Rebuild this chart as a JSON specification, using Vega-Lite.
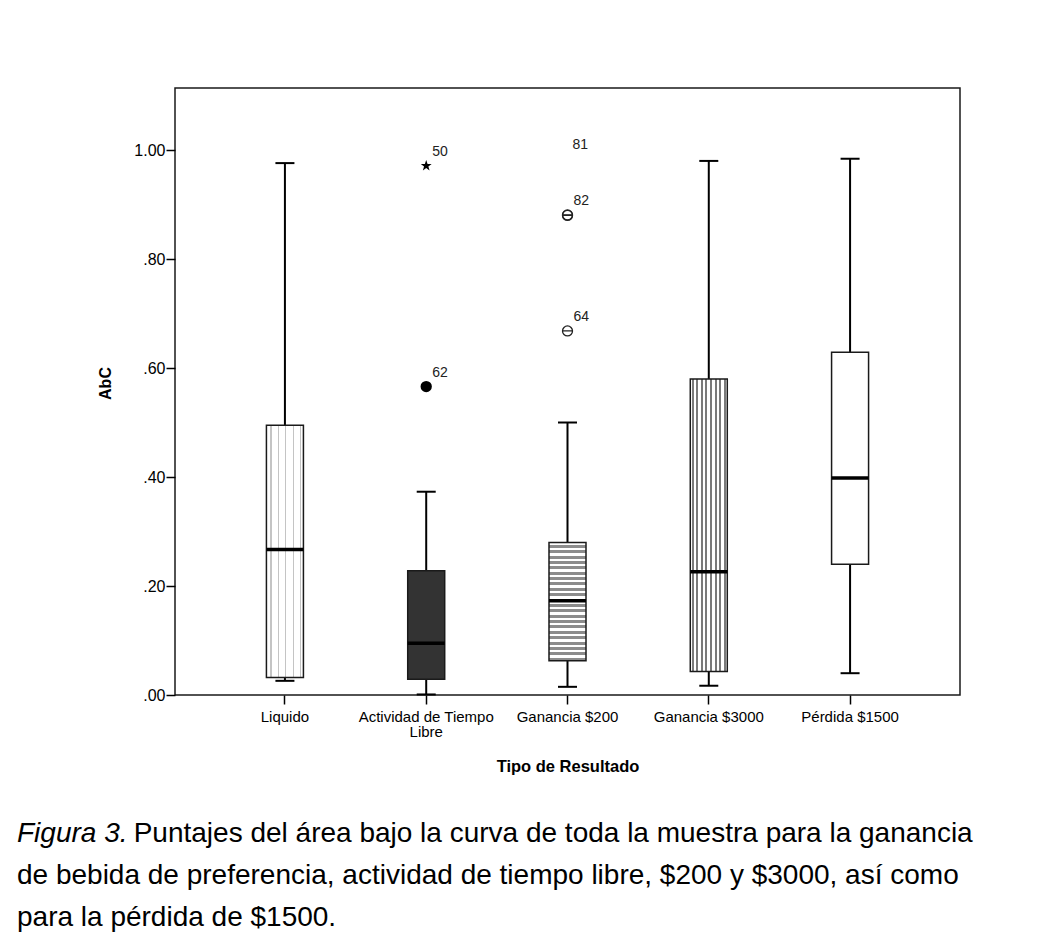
{
  "$schema": "https://vega.github.io/schema/vega-lite/v6.json",
  "width": 785,
  "height": 607,
  "autosize": {"type": "none"},
  "padding": {"left": 175, "top": 88, "right": 92, "bottom": 242},
  "background": "white",
  "config": {
    "view": {"stroke": "#1a1a1a", "strokeWidth": 1.5},
    "font": "Liberation Sans"
  },
  "datasets": {
    "boxes": [
      {"cat": "Liquido", "lo": 0.026, "q1": 0.032, "med": 0.267, "q3": 0.495, "hi": 0.976},
      {"cat": "Actividad de Tiempo Libre", "lo": 0.001, "q1": 0.029, "med": 0.095, "q3": 0.228, "hi": 0.373},
      {"cat": "Ganancia $200", "lo": 0.015, "q1": 0.063, "med": 0.173, "q3": 0.280, "hi": 0.500},
      {"cat": "Ganancia $3000", "lo": 0.017, "q1": 0.043, "med": 0.226, "q3": 0.580, "hi": 0.980},
      {"cat": "Pérdida $1500", "lo": 0.040, "q1": 0.240, "med": 0.398, "q3": 0.629, "hi": 0.984}
    ],
    "outliers": [
      {"cat": "Actividad de Tiempo Libre", "v": 0.971, "id": "50"},
      {"cat": "Actividad de Tiempo Libre", "v": 0.566, "id": "62"},
      {"cat": "Ganancia $200", "v": 0.881, "id": "81"},
      {"cat": "Ganancia $200", "v": 0.880, "id": "82"},
      {"cat": "Ganancia $200", "v": 0.668, "id": "64"}
    ]
  },
  "title": {
    "text": "Figura 3.",
    "subtitle": [
      "\u200b\u00a0\u00a0\u00a0\u00a0\u00a0\u00a0\u00a0\u00a0\u00a0\u00a0\u00a0\u00a0\u00a0\u00a0\u00a0Puntajes del área bajo la curva de toda la muestra para la ganancia",
      "de bebida de preferencia, actividad de tiempo libre, $200 y $3000, así como",
      "para la pérdida de $1500."
    ],
    "orient": "bottom",
    "anchor": "start",
    "frame": "group",
    "font": "Liberation Sans",
    "fontSize": 28,
    "fontStyle": "italic",
    "fontWeight": "normal",
    "color": "#000",
    "lineHeight": 42,
    "subtitleFont": "Liberation Sans",
    "subtitleFontSize": 28,
    "subtitleFontStyle": "normal",
    "subtitleFontWeight": "normal",
    "subtitleColor": "#000",
    "subtitleLineHeight": 42,
    "subtitlePadding": -28,
    "dx": -158,
    "offset": 45
  },
  "encoding": {
    "x": {
      "field": "cat",
      "type": "nominal",
      "scale": {
        "type": "band",
        "domain": ["Liquido", "Actividad de Tiempo Libre", "Ganancia $200", "Ganancia $3000", "Pérdida $1500"],
        "paddingInner": 0,
        "paddingOuter": 0.278
      },
      "axis": {
        "title": "Tipo de Resultado",
        "titleFont": "Liberation Sans",
        "titleFontSize": 16.5,
        "titleFontWeight": "bold",
        "titleColor": "#000",
        "titleY": 76,
        "titleBaseline": "alphabetic",
        "labelFont": "Liberation Sans",
        "labelFontSize": 15,
        "labelColor": "#000",
        "labelAngle": 0,
        "labelPadding": 5,
        "labelLimit": 0,
        "labelLineHeight": 15.5,
        "labelExpr": "datum.value == 'Actividad de Tiempo Libre' ? ['Actividad de Tiempo', 'Libre'] : datum.value",
        "tickSize": 9,
        "tickWidth": 1.5,
        "tickColor": "#000",
        "domain": false,
        "grid": false
      }
    }
  },
  "layer": [
    {
      "data": {"name": "boxes"},
      "mark": {"type": "rule", "color": "#000", "strokeWidth": 2},
      "encoding": {
        "y": {
          "field": "lo",
          "type": "quantitative",
          "title": "AbC",
          "scale": {"domain": [0, 1.1138], "nice": false, "zero": false},
          "axis": {
            "title": "AbC",
            "titleFont": "Liberation Sans",
            "titleFontSize": 16,
            "titleFontWeight": "bold",
            "titleColor": "#000",
            "titlePadding": 20,
            "titleY": 295,
            "values": [0, 0.2, 0.4, 0.6, 0.8, 1.0],
            "format": ".2f",
            "labelExpr": "replace(datum.label, '0.', '.')",
            "labelFont": "Liberation Sans",
            "labelFontSize": 16,
            "labelColor": "#000",
            "labelPadding": 1,
            "tickSize": 9,
            "tickWidth": 1.5,
            "tickColor": "#000",
            "domain": false,
            "grid": false
          }
        },
        "y2": {"field": "hi"}
      }
    },
    {
      "data": {"name": "boxes"},
      "mark": {"type": "tick", "color": "#000", "opacity": 1, "thickness": 2, "size": 19},
      "encoding": {"y": {"field": "lo", "type": "quantitative", "title": "AbC"}}
    },
    {
      "data": {"name": "boxes"},
      "mark": {"type": "tick", "color": "#000", "opacity": 1, "thickness": 2, "size": 19},
      "encoding": {"y": {"field": "hi", "type": "quantitative", "title": "AbC"}}
    },
    {
      "data": {"name": "boxes"},
      "transform": [{"filter": "datum.cat === 'Liquido'"}],
      "mark": {
        "type": "bar", "width": 37, "stroke": "#1a1a1a", "strokeWidth": 1.5, "opacity": 1,
        "fill": {"gradient": "linear", "x1": 0, "y1": 0, "x2": 1, "y2": 0, "stops": [
          {"offset": 0, "color": "#ffffff"}, {"offset": 0.11, "color": "#ffffff"}, {"offset": 0.11, "color": "#c4c4c4"}, {"offset": 0.14, "color": "#c4c4c4"}, {"offset": 0.14, "color": "#ffffff"},
          {"offset": 0.32, "color": "#ffffff"}, {"offset": 0.32, "color": "#c4c4c4"}, {"offset": 0.35, "color": "#c4c4c4"}, {"offset": 0.35, "color": "#ffffff"},
          {"offset": 0.51, "color": "#ffffff"}, {"offset": 0.51, "color": "#c4c4c4"}, {"offset": 0.54, "color": "#c4c4c4"}, {"offset": 0.54, "color": "#ffffff"},
          {"offset": 0.71, "color": "#ffffff"}, {"offset": 0.71, "color": "#c4c4c4"}, {"offset": 0.74, "color": "#c4c4c4"}, {"offset": 0.74, "color": "#ffffff"},
          {"offset": 0.9, "color": "#ffffff"}, {"offset": 0.9, "color": "#c4c4c4"}, {"offset": 0.93, "color": "#c4c4c4"}, {"offset": 0.93, "color": "#ffffff"},
          {"offset": 1, "color": "#ffffff"}
        ]}
      },
      "encoding": {"y": {"field": "q1", "type": "quantitative", "title": "AbC"}, "y2": {"field": "q3"}}
    },
    {
      "data": {"name": "boxes"},
      "transform": [{"filter": "datum.cat === 'Actividad de Tiempo Libre'"}],
      "mark": {"type": "bar", "width": 37, "stroke": "#1a1a1a", "strokeWidth": 1.5, "opacity": 1, "fill": "#333333"},
      "encoding": {"y": {"field": "q1", "type": "quantitative", "title": "AbC"}, "y2": {"field": "q3"}}
    },
    {
      "data": {"name": "boxes"},
      "transform": [{"filter": "datum.cat === 'Ganancia $200'"}],
      "mark": {
        "type": "bar", "width": 37, "stroke": "#1a1a1a", "strokeWidth": 1.5, "opacity": 1,
        "fill": {"gradient": "linear", "x1": 0, "y1": 0, "x2": 0, "y2": 1, "stops": [
          {"offset": 0, "color": "#ffffff"}, {"offset": 0.0205, "color": "#ffffff"}, {"offset": 0.0205, "color": "#8c8c8c"}, {"offset": 0.0455, "color": "#8c8c8c"},
          {"offset": 0.0455, "color": "#ffffff"}, {"offset": 0.0659, "color": "#ffffff"}, {"offset": 0.0659, "color": "#8c8c8c"}, {"offset": 0.0909, "color": "#8c8c8c"},
          {"offset": 0.0909, "color": "#ffffff"}, {"offset": 0.1114, "color": "#ffffff"}, {"offset": 0.1114, "color": "#8c8c8c"}, {"offset": 0.1364, "color": "#8c8c8c"},
          {"offset": 0.1364, "color": "#ffffff"}, {"offset": 0.1568, "color": "#ffffff"}, {"offset": 0.1568, "color": "#8c8c8c"}, {"offset": 0.1818, "color": "#8c8c8c"},
          {"offset": 0.1818, "color": "#ffffff"}, {"offset": 0.2023, "color": "#ffffff"}, {"offset": 0.2023, "color": "#8c8c8c"}, {"offset": 0.2273, "color": "#8c8c8c"},
          {"offset": 0.2273, "color": "#ffffff"}, {"offset": 0.2477, "color": "#ffffff"}, {"offset": 0.2477, "color": "#8c8c8c"}, {"offset": 0.2727, "color": "#8c8c8c"},
          {"offset": 0.2727, "color": "#ffffff"}, {"offset": 0.2932, "color": "#ffffff"}, {"offset": 0.2932, "color": "#8c8c8c"}, {"offset": 0.3182, "color": "#8c8c8c"},
          {"offset": 0.3182, "color": "#ffffff"}, {"offset": 0.3386, "color": "#ffffff"}, {"offset": 0.3386, "color": "#8c8c8c"}, {"offset": 0.3636, "color": "#8c8c8c"},
          {"offset": 0.3636, "color": "#ffffff"}, {"offset": 0.3841, "color": "#ffffff"}, {"offset": 0.3841, "color": "#8c8c8c"}, {"offset": 0.4091, "color": "#8c8c8c"},
          {"offset": 0.4091, "color": "#ffffff"}, {"offset": 0.4295, "color": "#ffffff"}, {"offset": 0.4295, "color": "#8c8c8c"}, {"offset": 0.4545, "color": "#8c8c8c"},
          {"offset": 0.4545, "color": "#ffffff"}, {"offset": 0.475, "color": "#ffffff"}, {"offset": 0.475, "color": "#8c8c8c"}, {"offset": 0.5, "color": "#8c8c8c"},
          {"offset": 0.5, "color": "#ffffff"}, {"offset": 0.5205, "color": "#ffffff"}, {"offset": 0.5205, "color": "#8c8c8c"}, {"offset": 0.5455, "color": "#8c8c8c"},
          {"offset": 0.5455, "color": "#ffffff"}, {"offset": 0.5659, "color": "#ffffff"}, {"offset": 0.5659, "color": "#8c8c8c"}, {"offset": 0.5909, "color": "#8c8c8c"},
          {"offset": 0.5909, "color": "#ffffff"}, {"offset": 0.6114, "color": "#ffffff"}, {"offset": 0.6114, "color": "#8c8c8c"}, {"offset": 0.6364, "color": "#8c8c8c"},
          {"offset": 0.6364, "color": "#ffffff"}, {"offset": 0.6568, "color": "#ffffff"}, {"offset": 0.6568, "color": "#8c8c8c"}, {"offset": 0.6818, "color": "#8c8c8c"},
          {"offset": 0.6818, "color": "#ffffff"}, {"offset": 0.7023, "color": "#ffffff"}, {"offset": 0.7023, "color": "#8c8c8c"}, {"offset": 0.7273, "color": "#8c8c8c"},
          {"offset": 0.7273, "color": "#ffffff"}, {"offset": 0.7477, "color": "#ffffff"}, {"offset": 0.7477, "color": "#8c8c8c"}, {"offset": 0.7727, "color": "#8c8c8c"},
          {"offset": 0.7727, "color": "#ffffff"}, {"offset": 0.7932, "color": "#ffffff"}, {"offset": 0.7932, "color": "#8c8c8c"}, {"offset": 0.8182, "color": "#8c8c8c"},
          {"offset": 0.8182, "color": "#ffffff"}, {"offset": 0.8386, "color": "#ffffff"}, {"offset": 0.8386, "color": "#8c8c8c"}, {"offset": 0.8636, "color": "#8c8c8c"},
          {"offset": 0.8636, "color": "#ffffff"}, {"offset": 0.8841, "color": "#ffffff"}, {"offset": 0.8841, "color": "#8c8c8c"}, {"offset": 0.9091, "color": "#8c8c8c"},
          {"offset": 0.9091, "color": "#ffffff"}, {"offset": 0.9295, "color": "#ffffff"}, {"offset": 0.9295, "color": "#8c8c8c"}, {"offset": 0.9545, "color": "#8c8c8c"},
          {"offset": 0.9545, "color": "#ffffff"}, {"offset": 0.975, "color": "#ffffff"}, {"offset": 0.975, "color": "#8c8c8c"}, {"offset": 1, "color": "#8c8c8c"}
        ]}
      },
      "encoding": {"y": {"field": "q1", "type": "quantitative", "title": "AbC"}, "y2": {"field": "q3"}}
    },
    {
      "data": {"name": "boxes"},
      "transform": [{"filter": "datum.cat === 'Ganancia $3000'"}],
      "mark": {
        "type": "bar", "width": 37, "stroke": "#1a1a1a", "strokeWidth": 1.5, "opacity": 1,
        "fill": {"gradient": "linear", "x1": 0, "y1": 0, "x2": 1, "y2": 0, "stops": [
          {"offset": 0, "color": "#ffffff"}, {"offset": 0.035, "color": "#ffffff"}, {"offset": 0.035, "color": "#7a7a7a"}, {"offset": 0.09, "color": "#7a7a7a"},
          {"offset": 0.09, "color": "#ffffff"}, {"offset": 0.16, "color": "#ffffff"}, {"offset": 0.16, "color": "#7a7a7a"}, {"offset": 0.215, "color": "#7a7a7a"},
          {"offset": 0.215, "color": "#ffffff"}, {"offset": 0.285, "color": "#ffffff"}, {"offset": 0.285, "color": "#7a7a7a"}, {"offset": 0.34, "color": "#7a7a7a"},
          {"offset": 0.34, "color": "#ffffff"}, {"offset": 0.41, "color": "#ffffff"}, {"offset": 0.41, "color": "#7a7a7a"}, {"offset": 0.465, "color": "#7a7a7a"},
          {"offset": 0.465, "color": "#ffffff"}, {"offset": 0.535, "color": "#ffffff"}, {"offset": 0.535, "color": "#7a7a7a"}, {"offset": 0.59, "color": "#7a7a7a"},
          {"offset": 0.59, "color": "#ffffff"}, {"offset": 0.66, "color": "#ffffff"}, {"offset": 0.66, "color": "#7a7a7a"}, {"offset": 0.715, "color": "#7a7a7a"},
          {"offset": 0.715, "color": "#ffffff"}, {"offset": 0.785, "color": "#ffffff"}, {"offset": 0.785, "color": "#7a7a7a"}, {"offset": 0.84, "color": "#7a7a7a"},
          {"offset": 0.84, "color": "#ffffff"}, {"offset": 0.91, "color": "#ffffff"}, {"offset": 0.91, "color": "#7a7a7a"}, {"offset": 0.965, "color": "#7a7a7a"},
          {"offset": 0.965, "color": "#ffffff"}, {"offset": 1, "color": "#ffffff"}
        ]}
      },
      "encoding": {"y": {"field": "q1", "type": "quantitative", "title": "AbC"}, "y2": {"field": "q3"}}
    },
    {
      "data": {"name": "boxes"},
      "transform": [{"filter": "datum.cat === 'Pérdida $1500'"}],
      "mark": {"type": "bar", "width": 37, "stroke": "#1a1a1a", "strokeWidth": 1.5, "opacity": 1, "fill": "#ffffff"},
      "encoding": {"y": {"field": "q1", "type": "quantitative", "title": "AbC"}, "y2": {"field": "q3"}}
    },
    {
      "data": {"name": "boxes"},
      "mark": {"type": "tick", "color": "#000", "opacity": 1, "thickness": 3.5, "size": 37},
      "encoding": {"y": {"field": "med", "type": "quantitative", "title": "AbC"}}
    },
    {
      "data": {"name": "outliers"},
      "transform": [{"filter": "datum.id === '50'"}],
      "mark": {"type": "point", "filled": true, "color": "#000", "opacity": 1, "size": 130,
        "shape": "M0,-1L0.235,-0.324L0.951,-0.309L0.38,0.124L0.588,0.809L0,0.4L-0.588,0.809L-0.38,0.124L-0.951,-0.309L-0.235,-0.324Z"},
      "encoding": {"y": {"field": "v", "type": "quantitative", "title": "AbC"}}
    },
    {
      "data": {"name": "outliers"},
      "transform": [{"filter": "datum.id === '62'"}],
      "mark": {"type": "point", "filled": true, "color": "#000", "opacity": 1, "size": 128, "shape": "circle"},
      "encoding": {"y": {"field": "v", "type": "quantitative", "title": "AbC"}}
    },
    {
      "data": {"name": "outliers"},
      "transform": [{"filter": "datum.cat === 'Ganancia $200'"}],
      "mark": {"type": "point", "filled": false, "stroke": "#222", "strokeWidth": 1.3, "opacity": 1, "size": 100,
        "shape": "M-1,0A1,1 0 1,1 1,0A1,1 0 1,1 -1,0ZM-1,0L1,0"},
      "encoding": {"y": {"field": "v", "type": "quantitative", "title": "AbC"}}
    },
    {
      "data": {"name": "outliers"},
      "transform": [{"filter": "datum.id !== '81'"}],
      "mark": {"type": "text", "align": "left", "baseline": "middle", "dx": 6, "dy": -14, "fontSize": 14, "font": "Liberation Sans", "color": "#222"},
      "encoding": {"y": {"field": "v", "type": "quantitative", "title": "AbC"}, "text": {"field": "id"}}
    },
    {
      "data": {"name": "outliers"},
      "transform": [{"filter": "datum.id === '81'"}],
      "mark": {"type": "text", "align": "left", "baseline": "middle", "dx": 5, "dy": -70, "fontSize": 14, "font": "Liberation Sans", "color": "#222"},
      "encoding": {"y": {"field": "v", "type": "quantitative", "title": "AbC"}, "text": {"field": "id"}}
    }
  ]
}
